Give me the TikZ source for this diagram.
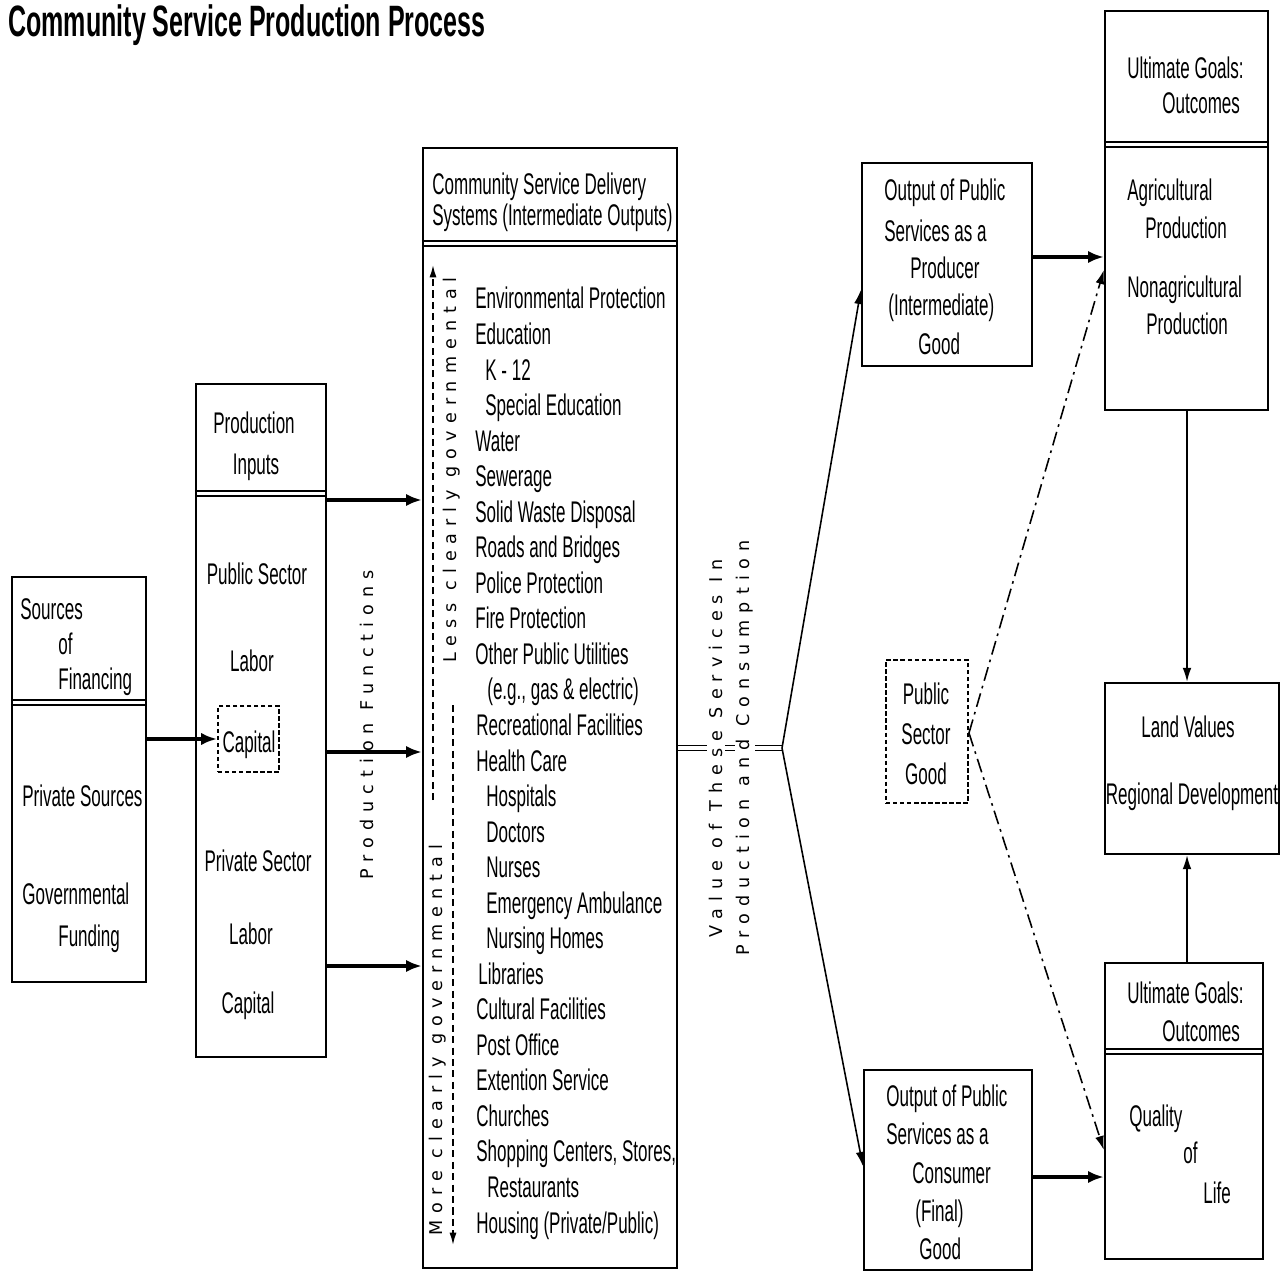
\documentclass[tikz,border=0pt]{standalone}
\usepackage{fontspec}
\setmainfont[FakeStretch=0.57]{Liberation Sans}
\newfontfamily\vfont[LetterSpace=40]{DejaVu Sans}
\usetikzlibrary{arrows.meta,fit}
\begin{document}
\begin{tikzpicture}[x=0.02cm,y=-0.02cm,
  box/.style={draw,line width=1.3pt,inner sep=0pt},
  dbox/.style={draw,line width=1.1pt,inner sep=0pt,dash pattern=on 2.5pt off 1.5pt},
  txt/.style={inner sep=0pt,anchor=base west,font=\fontsize{17pt}{20pt}\selectfont},
  ctxt/.style={txt,anchor=base},
  vtxt/.style={inner sep=1pt,rotate=90,font=\vfont\fontsize{10pt}{12pt}\selectfont},
  wtxt/.style={vtxt,fill=white},
  arr/.style={line width=1.8pt,-{Latex[length=9pt,width=7pt]}},
  thinarr/.style={line width=0.9pt,-{Latex[length=8pt,width=5pt]}},
  gov/.style={line width=0.9pt,dash pattern=on 4pt off 2.5pt,-{Latex[length=7pt,width=4pt]}},
  pdash/.style={line width=0.9pt,dash pattern=on 8pt off 3pt on 1.5pt off 3pt,-{Latex[length=8pt,width=5pt]}},
  divider/.style={line width=0.8pt}]

\useasboundingbox (0,0) rectangle (1281,1273);

% title
\node[txt,font=\fontsize{25pt}{30pt}\selectfont\bfseries] (title) at (8,37) {Community Service Production Process};

% ---------- boxes ----------
\coordinate (src1) at (12,577); \coordinate (src2) at (146,982);
\node[box,fit=(src1)(src2)] (src) {};
\coordinate (pin1) at (196,384); \coordinate (pin2) at (326,1057);
\node[box,fit=(pin1)(pin2)] (pin) {};
\coordinate (csd1) at (423,148); \coordinate (csd2) at (677,1268);
\node[box,fit=(csd1)(csd2)] (csd) {};
\coordinate (opp1) at (862,163); \coordinate (opp2) at (1032,366);
\node[box,fit=(opp1)(opp2)] (opp) {};
\coordinate (opc1) at (864,1070); \coordinate (opc2) at (1032,1270);
\node[box,fit=(opc1)(opc2)] (opc) {};
\coordinate (ug11) at (1105,11); \coordinate (ug12) at (1268,410);
\node[box,fit=(ug11)(ug12)] (ug1) {};
\coordinate (lv1) at (1105,683); \coordinate (lv2) at (1279,854);
\node[box,fit=(lv1)(lv2)] (lv) {};
\coordinate (ug21) at (1105,963); \coordinate (ug22) at (1263,1259);
\node[box,fit=(ug21)(ug22)] (ug2) {};
\coordinate (psg1) at (886,660); \coordinate (psg2) at (968,803);
\node[dbox,fit=(psg1)(psg2)] (psg) {};
\coordinate (cap1) at (218,706); \coordinate (cap2) at (279,772);
\node[dbox,fit=(cap1)(cap2)] (cap) {};

% dividers (double lines)
\foreach \b/\y in {src/700,pin/491,csd/241,ug1/142,ug2/1049}{
  \draw[divider] (\b.west |- 0,\y) -- (\b.east |- 0,\y);
  \draw[divider] (\b.west |- 0,\y+5) -- (\b.east |- 0,\y+5);
}

% ---------- texts ----------
\node[txt] (s1) at (20,619) {Sources};
\node[txt] (s2) at (58,654) {of};
\node[txt] (s3) at (58,689) {Financing};
\node[txt] (s4) at (22,806) {Private Sources};
\node[txt] (s5) at (22,904) {Governmental};
\node[txt] (s6) at (58,946) {Funding};

\node[ctxt] (p1) at (254,434) {Production};
\node[ctxt] (p2) at (256,475) {Inputs};
\node[ctxt] (p3) at (257,584) {Public Sector};
\node[ctxt] (p4) at (252,671) {Labor};
\node[ctxt] (p5) at (249,752) {Capital};
\node[ctxt] (p6) at (258,871) {Private Sector};
\node[ctxt] (p7) at (251,944) {Labor};
\node[ctxt] (p8) at (248,1013) {Capital};

\node[txt] (h1) at (432,195) {Community Service Delivery};
\node[txt] (h2) at (432,226) {Systems (Intermediate Outputs)};

\foreach \t/\x [count=\i from 0] in {Environmental Protection/475, Education/475, K - 12/485, Special Education/485, Water/475, Sewerage/475, Solid Waste Disposal/475, Roads and Bridges/475, Police Protection/475, Fire Protection/475, Other Public Utilities/475, {(e.g., gas \& electric)}/487, Recreational Facilities/476, Health Care/476, Hospitals/486, Doctors/486, Nurses/486, Emergency Ambulance/486, Nursing Homes/486, Libraries/478, Cultural Facilities/476, Post Office/476, Extention Service/476, Churches/476, {Shopping Centers, Stores,}/476, Restaurants/487, {Housing (Private/Public)}/476}{
  \pgfmathsetmacro\yy{309+35.54*\i}
  \node[txt] (item\i) at (\x,\yy) {\t};
}

\node[txt] (o1) at (884,201) {Output of Public};
\node[txt] (o2) at (884,242) {Services as a};
\node[txt] (o3) at (910,279) {Producer};
\node[txt] (o4) at (888,316) {(Intermediate)};
\node[txt] (o5) at (918,355) {Good};

\node[txt] (c1) at (886,1106) {Output of Public};
\node[txt] (c2) at (886,1144) {Services as a};
\node[txt] (c3) at (912,1183) {Consumer};
\node[txt] (c4) at (915,1221) {(Final)};
\node[txt] (c5) at (919,1259) {Good};

\node[ctxt] (g1) at (926,704) {Public};
\node[ctxt] (g2) at (926,744) {Sector};
\node[ctxt] (g3) at (926,784) {Good};

\node[txt] (u1) at (1127,79) {Ultimate Goals:};
\node[txt] (u2) at (1162,114) {Outcomes};
\node[txt] (u3) at (1127,201) {Agricultural};
\node[txt] (u4) at (1145,239) {Production};
\node[txt] (u5) at (1127,298) {Nonagricultural};
\node[txt] (u6) at (1146,335) {Production};

\node[ctxt] (l1) at (1188,737) {Land Values};
\node[ctxt] (l2) at (1192,804) {Regional Development};

\node[txt] (v1) at (1127,1003) {Ultimate Goals:};
\node[txt] (v2) at (1162,1041) {Outcomes};
\node[txt] (v3) at (1129,1126) {Quality};
\node[txt] (v4) at (1183,1163) {of};
\node[txt] (v5) at (1203,1203) {Life};

% ---------- connectors ----------
\draw[arr] (src.east |- cap.west) -- (cap.west);
\draw[arr] (pin.east |- 0,500) -- (csd.west |- 0,500);
\draw[arr] (pin.east |- 0,752) -- (csd.west |- 0,752);
\draw[arr] (pin.east |- 0,966) -- (csd.west |- 0,966);
\node[vtxt] (pf) at (367,725) {Production Functions};

\draw[gov] (433,800) coordinate (gu1) -- (433,265) coordinate (gu2);
\draw[gov] (453,705) coordinate (gd1) -- (453,1245) coordinate (gd2);
\node[vtxt] (less) at (452,470) {Less clearly governmental};
\node[vtxt] (more) at (438,1040) {More clearly governmental};

\coordinate (apex) at (782,748);
\draw[line width=0.8pt,double,double distance=2pt] (csd.east |- apex) -- (apex);
\node[wtxt] (val1) at (716,748) {Value of These Services In};
\node[wtxt] (val2) at (745,748) {Production and Consumption};
\draw[thinarr] (apex) -- (opp.west |- 0,290);
\draw[thinarr] (apex) -- (opc.west |- 0,1166);

\draw[arr] (opp.east |- 0,257) -- (ug1.west |- 0,257);
\draw[arr] (opc.east |- 0,1177) -- (ug2.west |- 0,1177);

\draw[pdash] (psg.east |- 0,733) -- (ug1.west |- 0,270);
\draw[pdash] (psg.east |- 0,733) -- (ug2.west |- 0,1150);

\draw[thinarr] (ug1.south -| 1187,0) -- (lv.north -| 1187,0);
\draw[thinarr] (ug2.north -| 1187,0) -- (lv.south -| 1187,0);
\end{tikzpicture}
\end{document}
